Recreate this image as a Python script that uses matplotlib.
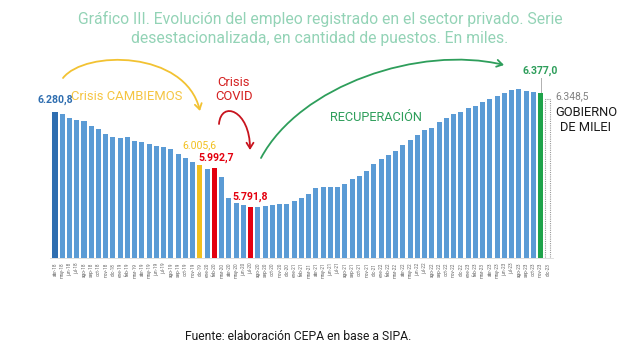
import matplotlib.pyplot as plt
from matplotlib.patches import FancyArrowPatch
from matplotlib.path import Path

plt.rcParams['font.family'] = ['Roboto', 'DejaVu Sans']

# -------------------------------
# Data (miles de puestos, abr-18 a dic-23)
# -------------------------------
meses = ["ene", "feb", "mar", "abr", "may", "jun", "jul", "ago", "sep", "oct", "nov", "dic"]
etiquetas = [f"{m}-{a}" for a in range(18, 24) for m in meses][3:]

empleo = [6280.8, 6270.5, 6250, 6240, 6231, 6206, 6192, 6166, 6151,
          6144, 6149, 6132, 6125, 6116, 6105, 6100, 6090, 6063, 6041, 6020, 6005.6,
          5985, 5992.7, 5943, 5835, 5809, 5802, 5791.8, 5792, 5797, 5798, 5806, 5807,
          5821, 5835, 5855, 5890, 5891, 5893, 5893, 5910, 5933, 5948, 5976, 6010,
          6039, 6058, 6080, 6108, 6134, 6160, 6188, 6198, 6228, 6247, 6267, 6281,
          6298, 6312, 6329, 6345, 6362, 6375, 6392, 6399, 6387, 6382, 6377.0, 6348.5]

idx_inicio = 0
idx_cambiemos = etiquetas.index("dic-19")
idx_precovid = etiquetas.index("feb-20")
idx_minimo = etiquetas.index("jul-20")
idx_maximo = etiquetas.index("nov-23")
idx_milei = etiquetas.index("dic-23")

# -------------------------------
# Colores
# -------------------------------
azul = "#5B9BD5"
azul_osc = "#2F6EB0"
amarillo = "#F2C01E"
rojo = "#E3000F"
verde = "#1FA34A"
verde_txt = "#2E9E5B"

colores = [azul] * len(empleo)
colores[idx_inicio] = azul_osc
colores[idx_cambiemos] = amarillo
colores[idx_precovid] = rojo
colores[idx_minimo] = rojo
colores[idx_maximo] = verde

fig = plt.figure(figsize=(6.4, 3.62), dpi=100)
ax = fig.add_axes([49.9 / 640, 0.2873, 503 / 640, 0.547])


def fpx(x, y):
    return (x / 640, 1 - y / 362)


x = list(range(len(empleo)))
bars = ax.bar(x, empleo, width=0.7, color=colores, zorder=2)
bars[idx_milei].set_facecolor("white")
bars[idx_milei].set_edgecolor("#9a9a9a")
bars[idx_milei].set_linestyle((0, (1, 1)))
bars[idx_milei].set_linewidth(0.8)

ax.set_xlim(-0.7, len(empleo) - 0.3)
ax.set_ylim(5527.8, 6546.9)
ax.set_xticks(x)
ax.set_xticklabels(etiquetas, rotation=90, fontsize=3.4, color="#666666")
ax.tick_params(axis="x", length=0, pad=3.5)
ax.set_yticks([])
for s in ["top", "right", "left"]:
    ax.spines[s].set_visible(False)
ax.spines["bottom"].set_color("#d9d9d9")
ax.spines["bottom"].set_linewidth(0.6)


def fmt(v):
    return f"{v:,.1f}".replace(",", "X").replace(".", ",").replace("X", ".")


# -------------------------------
# Etiquetas de valores
# -------------------------------
ax.text(idx_inicio, empleo[idx_inicio] + 35, fmt(empleo[idx_inicio]), ha="center",
        va="bottom", fontsize=7.6, fontweight="bold", color=azul_osc)
ax.text(idx_cambiemos, empleo[idx_cambiemos] + 75, fmt(empleo[idx_cambiemos]),
        ha="center", va="bottom", fontsize=7.6, color=amarillo)
ax.text(idx_precovid + 0.3, empleo[idx_precovid] + 22, fmt(empleo[idx_precovid]),
        ha="center", va="bottom", fontsize=7.6, fontweight="bold", color=rojo)
ax.text(idx_minimo, empleo[idx_minimo] + 22, fmt(empleo[idx_minimo]),
        ha="center", va="bottom", fontsize=7.6, fontweight="bold", color=rojo)
ax.text(idx_maximo, empleo[idx_maximo] + 85, fmt(empleo[idx_maximo]),
        ha="center", va="bottom", fontsize=7.6, fontweight="bold", color=verde_txt)
ax.plot([idx_maximo, idx_maximo], [empleo[idx_maximo] + 5, empleo[idx_maximo] + 75],
        color="#b0b0b0", lw=0.7, zorder=1)
ax.text(idx_milei + 1.0, empleo[idx_milei] + 10, fmt(empleo[idx_milei]),
        ha="left", va="center", fontsize=7.4, color="#808080")
fig.text(*fpx(586, 120), "GOBIERNO\nDE MILEI", ha="center", va="center",
         fontsize=9.3, color="#1a1a1a", linespacing=1.2)

# -------------------------------
# Anotaciones de periodos
# -------------------------------
fig.text(*fpx(127, 97), "Crisis CAMBIEMOS", ha="center", va="center",
         fontsize=9.4, color="#F5C542")
fig.text(*fpx(234, 89), "Crisis\nCOVID", ha="center", va="center",
         fontsize=9.4, color="#D42020", linespacing=1.1)
fig.text(*fpx(376, 118), "RECUPERACIÓN", ha="center", va="center",
         fontsize=9.2, color=verde_txt)

flechas = [
    ([(63, 78), (85, 50), (185, 50), (200, 111)], "#F2C232"),
    ([(219, 124), (221, 100), (250, 110), (250, 150)], "#C8141E"),
    ([(261, 158), (300, 85), (420, 45), (504, 65)], verde_txt),
]
codes = [Path.MOVETO, Path.CURVE4, Path.CURVE4, Path.CURVE4]
for pts, col in flechas:
    camino = Path([fpx(*p) for p in pts], codes)
    fig.patches.append(FancyArrowPatch(path=camino, transform=fig.transFigure,
                                       arrowstyle="->,head_length=4,head_width=2.5",
                                       color=col, lw=1.3))

# -------------------------------
# Titulo y fuente
# -------------------------------
titulo_color = "#93D3B6"
fig.text(*fpx(320, 19), "Gráfico III. Evolución del empleo registrado en el sector privado. Serie",
         ha="center", va="center", fontsize=11.3, color=titulo_color)
fig.text(*fpx(320, 39), "desestacionalizada, en cantidad de puestos. En miles.",
         ha="center", va="center", fontsize=11.3, color=titulo_color)
fig.text(*fpx(298, 336), "Fuente: elaboración CEPA en base a SIPA.", ha="center",
         va="center", fontsize=8.7, color="#1a1a1a")

fig.savefig("out.png", dpi=100)
